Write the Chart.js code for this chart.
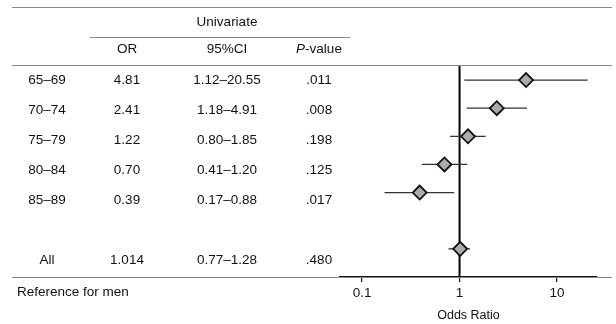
<!DOCTYPE html>
<html>
<head>
<meta charset="utf-8">
<script src="https://cdn.jsdelivr.net/npm/chart.js@4"></script>
<style>
  body { margin: 0; background: #fff; }
  canvas { display: block; }
</style>
</head>
<body>
<canvas id="forest" width="616" height="324"></canvas>
<script>
// table data (univariate, men)
var ageGroups = ['65\u201369', '70\u201374', '75\u201379', '80\u201384', '85\u201389', 'All'];
var orValues = [4.81, 2.41, 1.22, 0.70, 0.39, 1.014];
var ciLow = [1.12, 1.18, 0.80, 0.41, 0.17, 0.77];
var ciHigh = [20.55, 4.91, 1.85, 1.20, 0.88, 1.28];
var pValues = ['.011', '.008', '.198', '.125', '.017', '.480'];
var plotRows = [0, 1, 2, 3, 4, 6]; // a blank row before "All"
var xTicks = [0.1, 1, 10];

var FONT = '"Liberation Sans", Arial, Helvetica, sans-serif';
var TEXT = '#111';
var TFONT = '13.5px ' + FONT;

// keep at least two decimals like in the printed table
function fmt(v) {
  var dec = (String(v).split('.')[1] || '').length;
  return v.toFixed(Math.max(2, dec));
}

// diamonds
var pointData = orValues.map(function (v, i) { return { x: v, y: plotRows[i] }; });

var datasets = [{
  data: pointData,
  pointStyle: 'rectRot',
  pointRadius: 7,
  backgroundColor: '#ababab',
  borderColor: '#111',
  borderWidth: 1.8,
  showLine: false
}];

// one CI line per row
for (var i = 0; i < orValues.length; i++) {
  datasets.push({
    data: [{ x: ciLow[i], y: plotRows[i] }, { x: ciHigh[i], y: plotRows[i] }],
    showLine: true,
    borderColor: '#333',
    borderWidth: 1.3,
    pointRadius: 0
  });
}

// table, rules and the reference line
var tablePlugin = {
  id: 'tablePlugin',
  beforeDatasetsDraw: function (chart) {
    var ctx = chart.ctx;
    var area = chart.chartArea;
    var xs = chart.scales.x;
    ctx.save();

    // grey rules
    ctx.strokeStyle = '#8a8a8a';
    ctx.lineWidth = 1;
    [[12, 7, 612], [90, 37, 350], [12, 65, 612], [12, area.bottom, 612]].forEach(function (r) {
      ctx.beginPath();
      ctx.moveTo(r[0], r[1] + 0.5);
      ctx.lineTo(r[2], r[1] + 0.5);
      ctx.stroke();
    });

    // vertical line at OR = 1
    var x1 = xs.getPixelForValue(1);
    ctx.strokeStyle = '#000';
    ctx.lineWidth = 2;
    ctx.beginPath();
    ctx.moveTo(x1, area.top);
    ctx.lineTo(x1, area.bottom);
    ctx.stroke();

    // header
    ctx.fillStyle = TEXT;
    ctx.font = TFONT;
    ctx.textAlign = 'center';
    ctx.textBaseline = 'middle';
    ctx.fillText('Univariate', 227, 22);
    ctx.fillText('OR', 127, 49);
    ctx.fillText('95%CI', 227, 49);

    // P-value with italic P
    ctx.font = 'italic ' + TFONT;
    var wP = ctx.measureText('P').width;
    ctx.font = TFONT;
    var wRest = ctx.measureText('-value').width;
    var startX = 319 - (wP + wRest) / 2;
    ctx.textAlign = 'left';
    ctx.font = 'italic ' + TFONT;
    ctx.fillText('P', startX, 49);
    ctx.font = TFONT;
    ctx.fillText('-value', startX + wP, 49);

    // body rows
    ctx.textAlign = 'center';
    for (var i = 0; i < ageGroups.length; i++) {
      var y = 80 + plotRows[i] * 30.1;
      ctx.fillText(ageGroups[i], 47, y);
      ctx.fillText(fmt(orValues[i]), 127, y);
      ctx.fillText(fmt(ciLow[i]) + '\u2013' + fmt(ciHigh[i]), 227, y);
      ctx.fillText(pValues[i], 319, y);
    }

    ctx.textAlign = 'left';
    ctx.fillText('Reference for men', 17, 292);
    ctx.restore();
  }
};

new Chart(document.getElementById('forest'), {
  type: 'scatter',
  data: { datasets: datasets },
  options: {
    responsive: false,
    animation: false,
    layout: { padding: { left: 340, right: 19, top: 66, bottom: 0 } },
    plugins: { legend: { display: false }, tooltip: { enabled: false } },
    scales: {
      x: {
        type: 'logarithmic',
        min: 0.0594,
        max: 25.7,
        afterBuildTicks: function (scale) {
          scale.ticks = xTicks.map(function (v) { return { value: v }; });
        },
        afterFit: function (scale) {
          scale.height = 47;
        },
        ticks: {
          color: TEXT,
          font: { family: FONT, size: 13.5 },
          padding: 3,
          autoSkip: false,
          maxRotation: 0,
          callback: function (v) { return String(v); }
        },
        grid: { display: true, drawOnChartArea: false, drawTicks: true, tickLength: 5, color: '#111', lineWidth: 1.2 },
        border: { display: true, color: '#111', width: 1.5 },
        title: {
          display: true,
          text: 'Odds Ratio',
          color: TEXT,
          font: { family: FONT, size: 12.5 },
          padding: { top: 3, bottom: 1 }
        }
      },
      y: {
        type: 'linear',
        min: -0.5,
        max: 7,
        reverse: true,
        display: false
      }
    }
  },
  plugins: [tablePlugin]
});
</script>
</body>
</html>
